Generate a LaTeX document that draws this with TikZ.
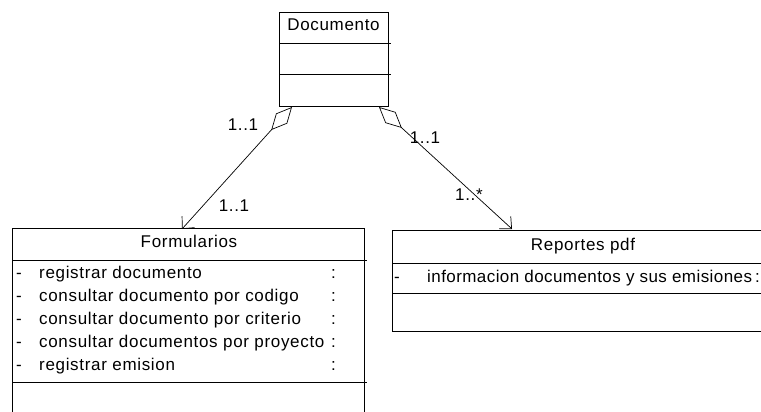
\documentclass[tikz,border=0pt]{standalone}
\usepackage{fontspec}
\setmainfont{Liberation Sans}[LetterSpace=4]
\usetikzlibrary{arrows.meta}
\tikzset{
  classbox/.style={draw, line width=0.9pt, inner sep=0pt, anchor=north west},
  sep/.style={line width=0.9pt},
  txt/.style={inner sep=0pt, text height=12pt, text depth=3.5pt, font=\fontsize{17}{20}\selectfont},
  row/.style={txt, anchor=west},
  assoc/.style={line width=0.7pt, {Diamond[open,length=31pt,width=15pt,line width=0.7pt]}-{Straight Barb[length=9pt,width=17pt,line width=0.7pt]}},
  mult/.style={txt}
}
\begin{document}
\begin{tikzpicture}[x=1pt,y=-1pt]
\useasboundingbox (0,0) rectangle (761,412);
\clip (0,0) rectangle (761,412);
% Documento
\node[classbox, minimum width=109pt, minimum height=94pt] (doc) at (279,12) {};
\node[txt] (docname) at (333.5,26) {Documento};
\draw[sep] (279,43) -- (391,43);
\draw[sep] (279,74) -- (391,74);
% Formularios
\node[classbox, minimum width=352pt, minimum height=200pt] (form) at (12,228) {};
\node[txt] (formname) at (189,243) {Formularios};
\draw[sep] (12,260) -- (367,260);
\draw[sep] (12,382) -- (367,382);
\foreach \t/\y [count=\i] in {registrar documento/274, consultar documento por codigo/297, consultar documento por criterio/320, consultar documentos por proyecto/343, registrar emision/366}{
  \node[row] (fd\i) at (16,\y) {-};
  \node[row] (ft\i) at (39,\y) {\t};
  \node[row] (fc\i) at (331,\y) {:};
}
% Reportes pdf
\node[classbox, minimum width=390pt, minimum height=101pt] (rep) at (392,230) {};
\node[txt] (repname) at (583,246) {Reportes pdf};
\draw[sep] (392,263) -- (770,263);
\draw[sep] (392,293) -- (770,293);
\node[row] (rd1) at (394,278) {-};
\node[row] (rt1) at (427,278) {\addfontfeatures{LetterSpace=2.5}informacion documentos y sus emisiones};
\node[row] (rc1) at (755,278) {:};
% associations
\coordinate (dl) at (292,107);
\coordinate (dr) at (379,107);
\coordinate (fa) at (182,229);
\coordinate (ra) at (512,229);
\draw[assoc] (dl) -- (fa);
\draw[assoc] (dr) -- (ra);
\node[mult] (m1) at (243,126) {1..1};
\node[mult] (m2) at (234,207) {1..1};
\node[mult] (m3) at (425,139) {1..1};
\node[mult] (m4) at (469,196) {1..*};
\end{tikzpicture}
\end{document}
